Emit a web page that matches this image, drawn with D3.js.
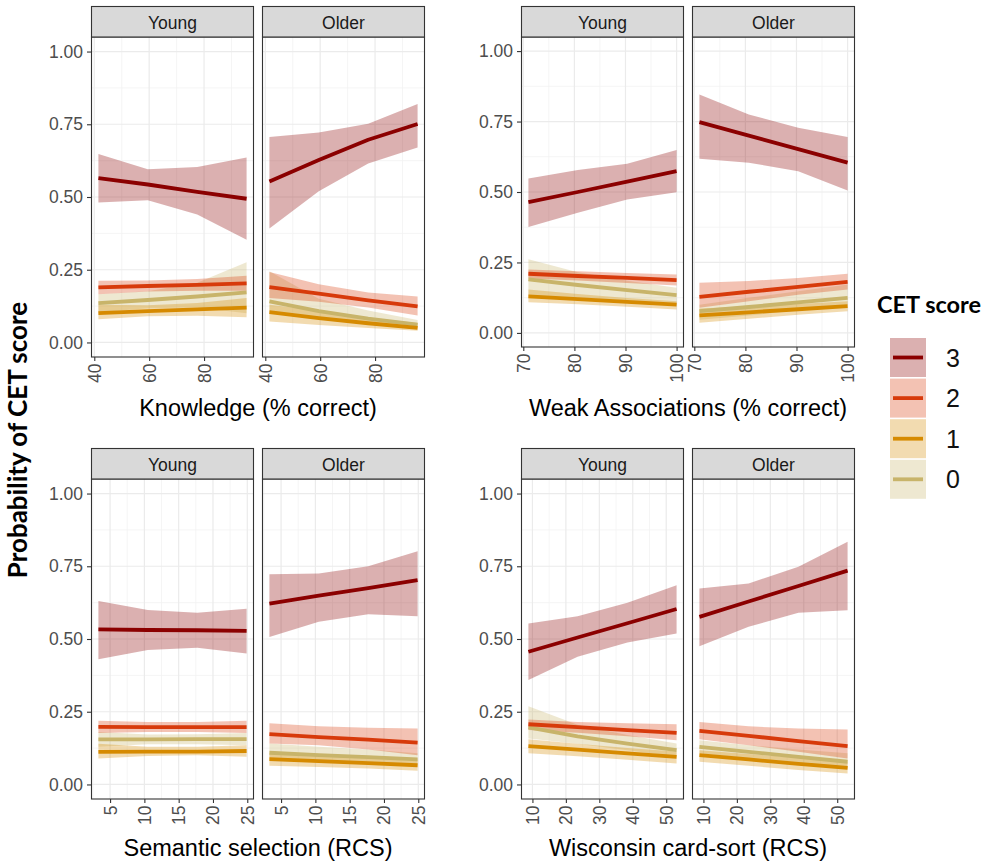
<!DOCTYPE html>
<html>
<head>
<meta charset="utf-8">
<script src="https://cdn.jsdelivr.net/npm/d3@7"></script>
<style>
  body { margin: 0; background: #ffffff; }
  svg { display: block; }
</style>
</head>
<body>
<svg id="chart" width="988" height="862"></svg>
<script>
// CET score levels in legend order, with their line colours
const scores = ["3", "2", "1", "0"];
const lineColours = ["#8b0000", "#d73a0b", "#d68a00", "#c8b46a"];
const groups = ["Young", "Older"];

// Predictor measures: axis titles, evaluation points and axis ticks
const measureTitles = ["Knowledge (% correct)", "Weak Associations (% correct)",
                       "Semantic selection (RCS)", "Wisconsin card-sort (RCS)"];
const measureX = [[41.5, 59.5, 77.5, 95.5], [71, 80.67, 90.33, 100],
                  [3.3, 10.5, 17.7, 24.9], [8.8, 23.5, 38.4, 53.1]];
const measureTicks = [[40, 60, 80], [70, 80, 90, 100],
                      [5, 10, 15, 20, 25], [10, 20, 30, 40, 50]];
const yTicks = [0, 0.25, 0.5, 0.75, 1];

// Predicted probabilities; rows are CET scores 3, 2, 1, 0
const knowledgeYoungFit = [[0.565, 0.543, 0.518, 0.494], [0.189, 0.194, 0.198, 0.203], [0.101, 0.108, 0.114, 0.120], [0.135, 0.146, 0.158, 0.172]];
const knowledgeYoungLo  = [[0.481, 0.489, 0.440, 0.353], [0.166, 0.175, 0.178, 0.178], [0.080, 0.090, 0.092, 0.087], [0.104, 0.118, 0.120, 0.100]];
const knowledgeYoungHi  = [[0.648, 0.595, 0.603, 0.636], [0.212, 0.213, 0.218, 0.229], [0.130, 0.128, 0.136, 0.153], [0.166, 0.176, 0.205, 0.276]];

const knowledgeOlderFit = [[0.553, 0.627, 0.697, 0.751], [0.190, 0.168, 0.145, 0.124], [0.104, 0.084, 0.066, 0.050], [0.141, 0.108, 0.082, 0.061]];
const knowledgeOlderLo  = [[0.392, 0.520, 0.615, 0.670], [0.153, 0.140, 0.120, 0.093], [0.072, 0.060, 0.050, 0.040], [0.104, 0.085, 0.065, 0.050]];
const knowledgeOlderHi  = [[0.706, 0.722, 0.752, 0.820], [0.242, 0.200, 0.172, 0.158], [0.130, 0.110, 0.085, 0.067], [0.245, 0.150, 0.110, 0.077]];

const weakYoungFit = [[0.464, 0.500, 0.537, 0.574], [0.210, 0.202, 0.195, 0.187], [0.130, 0.120, 0.110, 0.100], [0.190, 0.170, 0.152, 0.134]];
const weakYoungLo  = [[0.376, 0.426, 0.473, 0.499], [0.193, 0.186, 0.177, 0.168], [0.109, 0.102, 0.093, 0.083], [0.130, 0.125, 0.115, 0.100]];
const weakYoungHi  = [[0.548, 0.578, 0.600, 0.649], [0.225, 0.219, 0.213, 0.207], [0.154, 0.138, 0.124, 0.112], [0.261, 0.215, 0.185, 0.160]];

const weakOlderFit = [[0.748, 0.700, 0.652, 0.604], [0.128, 0.146, 0.163, 0.181], [0.062, 0.073, 0.084, 0.095], [0.077, 0.092, 0.108, 0.124]];
const weakOlderLo  = [[0.618, 0.604, 0.574, 0.505], [0.089, 0.112, 0.135, 0.154], [0.036, 0.050, 0.064, 0.077], [0.047, 0.062, 0.080, 0.100]];
const weakOlderHi  = [[0.846, 0.775, 0.728, 0.695], [0.178, 0.184, 0.195, 0.210], [0.087, 0.095, 0.103, 0.112], [0.100, 0.125, 0.148, 0.172]];

const semanticYoungFit = [[0.533, 0.531, 0.530, 0.528], [0.198, 0.197, 0.197, 0.197], [0.112, 0.113, 0.113, 0.115], [0.155, 0.155, 0.156, 0.156]];
const semanticYoungLo  = [[0.430, 0.462, 0.470, 0.450], [0.177, 0.180, 0.180, 0.177], [0.089, 0.098, 0.100, 0.095], [0.130, 0.138, 0.138, 0.135]];
const semanticYoungHi  = [[0.631, 0.600, 0.590, 0.604], [0.219, 0.215, 0.215, 0.219], [0.140, 0.130, 0.130, 0.135], [0.180, 0.172, 0.173, 0.177]];

const semanticOlderFit = [[0.622, 0.649, 0.675, 0.702], [0.173, 0.163, 0.154, 0.144], [0.087, 0.080, 0.073, 0.066], [0.109, 0.101, 0.094, 0.086]];
const semanticOlderLo  = [[0.507, 0.559, 0.585, 0.578], [0.141, 0.135, 0.120, 0.100], [0.064, 0.060, 0.055, 0.047], [0.086, 0.080, 0.075, 0.066]];
const semanticOlderHi  = [[0.723, 0.725, 0.750, 0.802], [0.210, 0.200, 0.195, 0.192], [0.107, 0.100, 0.092, 0.086], [0.141, 0.130, 0.120, 0.107]];

const wisconsinYoungFit = [[0.456, 0.505, 0.554, 0.603], [0.207, 0.197, 0.187, 0.177], [0.132, 0.120, 0.107, 0.095], [0.196, 0.165, 0.140, 0.118]];
const wisconsinYoungLo  = [[0.359, 0.439, 0.488, 0.519], [0.187, 0.178, 0.166, 0.152], [0.107, 0.097, 0.085, 0.072], [0.158, 0.140, 0.118, 0.095]];
const wisconsinYoungHi  = [[0.553, 0.578, 0.625, 0.685], [0.223, 0.215, 0.210, 0.207], [0.155, 0.140, 0.125, 0.113], [0.269, 0.205, 0.170, 0.141]];

const wisconsinOlderFit = [[0.576, 0.629, 0.682, 0.735], [0.184, 0.167, 0.149, 0.132], [0.101, 0.086, 0.071, 0.057], [0.129, 0.112, 0.095, 0.078]];
const wisconsinOlderLo  = [[0.475, 0.542, 0.590, 0.599], [0.155, 0.135, 0.112, 0.089], [0.078, 0.064, 0.050, 0.038], [0.107, 0.090, 0.072, 0.055]];
const wisconsinOlderHi  = [[0.674, 0.691, 0.748, 0.834], [0.215, 0.200, 0.192, 0.189], [0.118, 0.105, 0.092, 0.078], [0.152, 0.135, 0.120, 0.107]];

const panelSeries = [
  [[knowledgeYoungFit, knowledgeYoungLo, knowledgeYoungHi], [knowledgeOlderFit, knowledgeOlderLo, knowledgeOlderHi]],
  [[weakYoungFit, weakYoungLo, weakYoungHi], [weakOlderFit, weakOlderLo, weakOlderHi]],
  [[semanticYoungFit, semanticYoungLo, semanticYoungHi], [semanticOlderFit, semanticOlderLo, semanticOlderHi]],
  [[wisconsinYoungFit, wisconsinYoungLo, wisconsinYoungHi], [wisconsinOlderFit, wisconsinOlderLo, wisconsinOlderHi]]
];

// ---- layout ----
const blocks = [
  { left: 91,  stripTop: 6,   panelBottom: 357, titleY: 416 },
  { left: 521, stripTop: 6,   panelBottom: 347, titleY: 416 },
  { left: 91,  stripTop: 448, panelBottom: 799, titleY: 856 },
  { left: 521, stripTop: 448, panelBottom: 799, titleY: 856 }
];
const panelW = 163, panelStep = 171, stripH = 31, tickLen = 4;
const ribbonAlpha = 0.31;
const lineWidth = 3.8;
const sansFont = "'Liberation Sans', Arial, sans-serif";
const boldFont = "Lato, 'Open Sans', sans-serif";

const svg = d3.select("#chart");
svg.append("rect").attr("width", 988).attr("height", 862).attr("fill", "#ffffff");

function minorTicks(major, domain) {
  const step = major[1] - major[0];
  const out = [];
  for (let v = major[0] - step / 2; v <= domain[1]; v += step) {
    if (v >= domain[0]) out.push(v);
  }
  return out;
}

measureTitles.forEach((title, m) => {
  const b = blocks[m];
  const panelTop = b.stripTop + stripH;
  const y = d3.scaleLinear().domain([-0.05, 1.05]).range([b.panelBottom, panelTop]);
  const xs = measureX[m];
  const [lo, hi] = d3.extent(xs);
  const pad = (hi - lo) * 0.05;
  const xDomain = [lo - pad, hi + pad];
  const yMinor = minorTicks(yTicks, y.domain());

  groups.forEach((groupName, gi) => {
    const left = b.left + gi * panelStep;
    const x = d3.scaleLinear().domain(xDomain).range([left, left + panelW]);
    const xMinor = minorTicks(measureTicks[m], xDomain);
    const g = svg.append("g");

    // panel background and grid
    g.append("rect").attr("x", left).attr("y", panelTop)
      .attr("width", panelW).attr("height", b.panelBottom - panelTop).attr("fill", "#ffffff");
    const grid = g.append("g").attr("fill", "none");
    grid.selectAll(".ymin").data(yMinor).join("line")
      .attr("x1", left).attr("x2", left + panelW)
      .attr("y1", d => y(d)).attr("y2", d => y(d))
      .attr("stroke", "#f3f3f3").attr("stroke-width", 0.8);
    grid.selectAll(".xmin").data(xMinor).join("line")
      .attr("y1", panelTop).attr("y2", b.panelBottom)
      .attr("x1", d => x(d)).attr("x2", d => x(d))
      .attr("stroke", "#f3f3f3").attr("stroke-width", 0.8);
    grid.selectAll(".ymaj").data(yTicks).join("line")
      .attr("x1", left).attr("x2", left + panelW)
      .attr("y1", d => y(d)).attr("y2", d => y(d))
      .attr("stroke", "#ebebeb").attr("stroke-width", 1.2);
    grid.selectAll(".xmaj").data(measureTicks[m]).join("line")
      .attr("y1", panelTop).attr("y2", b.panelBottom)
      .attr("x1", d => x(d)).attr("x2", d => x(d))
      .attr("stroke", "#ebebeb").attr("stroke-width", 1.2);

    // confidence ribbons, then fitted lines
    const [fit, low, high] = panelSeries[m][gi];
    const order = [3, 2, 1, 0];
    order.forEach(si => {
      const area = d3.area()
        .x((d, i) => x(xs[i]))
        .y0((d, i) => y(low[si][i]))
        .y1((d, i) => y(high[si][i]));
      g.append("path").attr("d", area(xs))
        .attr("fill", lineColours[si]).attr("fill-opacity", ribbonAlpha);
    });
    order.forEach(si => {
      const line = d3.line().x((d, i) => x(xs[i])).y(d => y(d));
      g.append("path").attr("d", line(fit[si]))
        .attr("fill", "none").attr("stroke", lineColours[si])
        .attr("stroke-width", lineWidth).attr("stroke-linejoin", "round");
    });

    // panel border
    g.append("rect").attr("x", left + 0.5).attr("y", panelTop)
      .attr("width", panelW - 1).attr("height", b.panelBottom - panelTop)
      .attr("fill", "none").attr("stroke", "#333333").attr("stroke-width", 1.1);

    // strip
    g.append("rect").attr("x", left + 0.5).attr("y", b.stripTop + 0.5)
      .attr("width", panelW - 1).attr("height", stripH - 0.5)
      .attr("fill", "#d9d9d9").attr("stroke", "#333333").attr("stroke-width", 1.1);
    g.append("text").attr("x", left + panelW / 2).attr("y", b.stripTop + stripH / 2 + 1)
      .attr("text-anchor", "middle").attr("dominant-baseline", "central")
      .attr("font-family", sansFont).attr("font-size", 17.5).attr("fill", "#1a1a1a")
      .text(groupName);

    // x axis
    const xAxis = g.append("g").attr("transform", `translate(0,${b.panelBottom})`)
      .call(d3.axisBottom(x).tickValues(measureTicks[m]).tickSize(tickLen).tickPadding(0));
    xAxis.select(".domain").remove();
    xAxis.selectAll(".tick line").attr("stroke", "#333333").attr("stroke-width", 1.1);
    xAxis.selectAll(".tick text")
      .attr("font-family", sansFont).attr("font-size", 17.5).attr("fill", "#4d4d4d")
      .attr("text-anchor", "end").attr("dy", null).attr("y", null)
      .attr("dominant-baseline", "central")
      .attr("transform", `translate(0,${tickLen + 2.5}) rotate(-90)`);

    // y axis on the first panel of each pair
    if (gi === 0) {
      const yAxis = g.append("g").attr("transform", `translate(${left},0)`)
        .call(d3.axisLeft(y).tickValues(yTicks).tickSize(tickLen).tickPadding(4)
          .tickFormat(d3.format(".2f")));
      yAxis.select(".domain").remove();
      yAxis.selectAll(".tick line").attr("stroke", "#333333").attr("stroke-width", 1.1);
      yAxis.selectAll(".tick text")
        .attr("font-family", sansFont).attr("font-size", 17.5).attr("fill", "#4d4d4d");
    }
  });

  // axis title centred under the pair of panels
  svg.append("text")
    .attr("x", b.left + (panelStep + panelW) / 2).attr("y", b.titleY)
    .attr("text-anchor", "middle")
    .attr("font-family", sansFont).attr("font-size", 23.5).attr("fill", "#000000")
    .text(title);
});

// shared y title
svg.append("text")
  .attr("transform", "translate(27,440) rotate(-90)")
  .attr("text-anchor", "middle")
  .attr("font-family", boldFont).attr("font-weight", 700).attr("font-size", 26)
  .attr("fill", "#000000")
  .text("Probability of CET score");

// legend
const legend = svg.append("g");
legend.append("text").attr("x", 877).attr("y", 313)
  .attr("font-family", boldFont).attr("font-weight", 700).attr("font-size", 23.5)
  .attr("fill", "#000000").text("CET score");
scores.forEach((s, i) => {
  const top = 338 + i * 40.6;
  legend.append("rect").attr("x", 890).attr("y", top).attr("width", 36).attr("height", 39)
    .attr("fill", lineColours[i]).attr("fill-opacity", ribbonAlpha);
  legend.append("line").attr("x1", 893).attr("x2", 923)
    .attr("y1", top + 19.5).attr("y2", top + 19.5)
    .attr("stroke", lineColours[i]).attr("stroke-width", lineWidth);
  legend.append("text").attr("x", 946).attr("y", top + 28.5)
    .attr("font-family", sansFont).attr("font-size", 25).attr("fill", "#111111")
    .text(s);
});
</script>
</body>
</html>
